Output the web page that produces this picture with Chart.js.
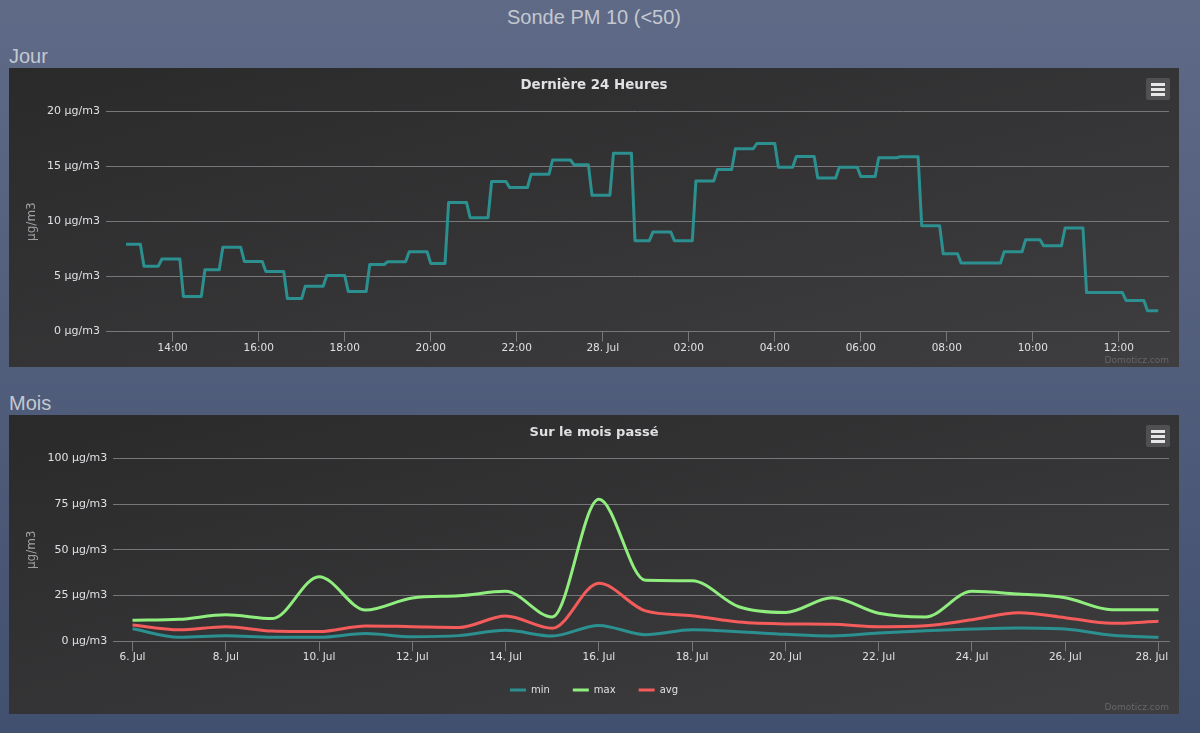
<!DOCTYPE html>
<html>
<head>
<meta charset="utf-8">
<title>Sonde PM 10</title>
<script src="https://cdn.jsdelivr.net/npm/chart.js@4/dist/chart.umd.min.js"></script>
<style>
    html, body { margin: 0; padding: 0; }
    body {
        position: relative;
        width: 1200px;
        height: 733px;
        overflow: hidden;
        background: linear-gradient(to bottom, #5f6a87, #42506f);
        font-family: "Liberation Sans", sans-serif;
        color: #c4c8d0;
    }
    h1, h2 { position: absolute; margin: 0; font-weight: normal; font-size: 20px; line-height: 24px; }
    h1 { left: 0; top: 5px; width: 1188px; text-align: center; }
    h2 { left: 9px; }
    .box {
        position: absolute;
        left: 9px;
        width: 1170px;
        height: 299px;
        background: linear-gradient(to bottom right, #2a2a2b, #3e3e40);
    }
    .box canvas { display: block; }
    .credit {
        position: absolute;
        right: 10px;
        bottom: 2px;
        font: 9px "DejaVu Sans", sans-serif;
        color: #666666;
    }
    .menu {
        position: absolute;
        left: 1137px;
        top: 10px;
        width: 24px;
        height: 22px;
        border-radius: 2px;
        background: #505053;
    }
    .menu i {
        position: absolute;
        left: 5px;
        width: 14px;
        height: 3px;
        background: #e6e6e6;
    }
</style>
</head>
<body>
<h1>Sonde PM 10 (&lt;50)</h1>
<h2 style="top:44px">Jour</h2>
<div class="box" style="top:68px">
    <canvas id="dayChart" width="1170" height="299"></canvas>
    <div class="menu"><i style="top:5px"></i><i style="top:10px"></i><i style="top:15px"></i></div>
    <div class="credit">Domoticz.com</div>
</div>
<h2 style="top:391px">Mois</h2>
<div class="box" style="top:415px">
    <canvas id="monthChart" width="1170" height="299"></canvas>
    <div class="menu"><i style="top:5px"></i><i style="top:10px"></i><i style="top:15px"></i></div>
    <div class="credit">Domoticz.com</div>
</div>
<script>
'use strict';

// Day chart: readings come every 5 minutes from 12:55, each level lasts until the next start slot
var dayFirstMinute = 775;
var daySlotMinutes = 5;
var dayStepSlots = [0, 5, 10, 16, 22, 27, 33, 39, 45, 50, 56, 62, 68, 73, 79, 85, 90, 96, 102, 107,
    113, 119, 125, 130, 136, 142, 147, 153, 159, 165, 170, 176, 182, 187, 193, 199, 205, 210, 216,
    222, 228, 233, 245, 251, 256, 262, 268, 279, 285, 289];
var dayLevels = [7.93, 5.95, 6.6, 3.2, 5.62, 7.66, 6.38, 5.47, 3.0, 4.13, 5.1, 3.65, 6.1, 6.35, 7.26,
    6.2, 11.73, 10.36, 13.65, 13.1, 14.3, 15.6, 15.16, 12.4, 16.22, 8.27, 9.05, 8.27, 13.7, 14.74,
    16.62, 17.1, 14.95, 15.92, 13.97, 14.95, 14.1, 15.8, 15.89, 9.63, 7.08, 6.23, 7.26, 8.36, 7.8,
    9.42, 3.55, 2.83, 1.89];
var dayTickMinutes = [840, 960, 1080, 1200, 1320, 1440, 1560, 1680, 1800, 1920, 2040, 2160];
var dayTickLabels = ['14:00', '16:00', '18:00', '20:00', '22:00', '28. Jul', '02:00', '04:00',
    '06:00', '08:00', '10:00', '12:00'];

// Month chart
var monthDays = [6, 7, 8, 9, 10, 11, 12, 13, 14, 15, 16, 17, 18, 19, 20, 21, 22, 23, 24, 25, 26, 27, 28];
var monthMin = [6.9, 2.2, 3.1, 2.2, 2.2, 4.2, 2.5, 3.1, 6, 2.9, 8.7, 3.6, 6.3, 5.2, 3.8, 2.9, 4.5, 5.8,
    6.7, 7.3, 6.7, 3.3, 2.2];
var monthMax = [11.5, 12, 14.5, 12.4, 35.3, 17.1, 23.7, 24.9, 27.3, 13.3, 77.6, 33.3, 33.1, 18.9, 15.8,
    23.8, 15.3, 13.3, 27.3, 25.8, 23.8, 17.3, 17.3];
var monthAvg = [8.9, 6.3, 8, 5.6, 5.3, 8.4, 8, 7.6, 13.8, 7.1, 31.7, 16.6, 14, 10.5, 9.5, 9.3, 8, 8.5,
    11.8, 15.6, 12.9, 9.8, 10.9];
var monthTickDays = [6, 8, 10, 12, 14, 16, 18, 20, 22, 24, 26, 28];

var unit = 'µg/m3';
var fontFamily = '"DejaVu Sans", sans-serif';
var gridColor = '#77777a';

/**
 * Turn the level table into corner points of the stepped line
 *
 * @returns {Array}
 */
function buildDayPoints() {
    var points = [];

    dayLevels.forEach(function (level, i) {
        points.push({ x: dayFirstMinute + dayStepSlots[i] * daySlotMinutes, y: level });
        points.push({ x: dayFirstMinute + (dayStepSlots[i + 1] - 1) * daySlotMinutes, y: level });
    });

    return points;
}

/**
 * Shared options of both charts
 *
 * @param {Object} cfg title, x range, ticks, y range, axis sizes
 * @returns {Object}
 */
function buildOptions(cfg) {
    return {
        responsive: false,
        animation: false,
        layout: { padding: { left: 10, right: 10, top: 0, bottom: cfg.bottomPadding } },
        elements: { point: { radius: 0 }, line: { borderWidth: 3, borderJoinStyle: 'round' } },
        plugins: {
            tooltip: { enabled: false },
            legend: cfg.legend,
            title: {
                display: true,
                text: cfg.title,
                color: '#E0E0E3',
                font: { family: fontFamily, size: cfg.titleSize, weight: 'bold', lineHeight: 1.2 },
                padding: { top: 9.5, bottom: cfg.titleBottom }
            }
        },
        scales: {
            x: {
                type: 'linear',
                min: cfg.xMin,
                max: cfg.xMax,
                afterBuildTicks: function (scale) {
                    scale.ticks = cfg.tickValues.map(function (v) { return { value: v }; });
                },
                afterFit: function (scale) {
                    scale.height = cfg.xHeight;
                    scale.paddingRight = 0;
                },
                border: { display: true, color: gridColor },
                grid: { drawOnChartArea: false, drawTicks: true, tickLength: 10, tickColor: gridColor },
                ticks: {
                    autoSkip: false,
                    maxRotation: 0,
                    color: '#E0E0E3',
                    font: { family: fontFamily, size: 10.5 },
                    padding: 0,
                    callback: cfg.tickLabel
                }
            },
            y: {
                min: 0,
                max: cfg.yMax,
                afterFit: function (scale) { scale.width = cfg.yWidth; },
                border: { display: false },
                grid: { color: gridColor, drawTicks: false },
                ticks: {
                    stepSize: cfg.yStep,
                    color: '#E0E0E3',
                    font: { family: fontFamily, size: 11 },
                    padding: 6,
                    callback: function (value) { return value + ' ' + unit; }
                },
                title: {
                    display: true,
                    text: unit,
                    color: '#A0A0A3',
                    font: { family: fontFamily, size: 12 },
                    padding: { top: 6, bottom: 0 }
                }
            }
        }
    };
}

new Chart(document.getElementById('dayChart').getContext('2d'), {
    type: 'line',
    data: {
        datasets: [{
            label: unit,
            data: buildDayPoints(),
            borderColor: '#2b908f',
            tension: 0
        }]
    },
    options: buildOptions({
        title: 'Dernière 24 Heures',
        titleSize: 13.4,
        titleBottom: 18.02,
        bottomPadding: 0,
        legend: { display: false },
        xMin: 747,
        xMax: 2230,
        xHeight: 35.4,
        yWidth: 87,
        tickValues: dayTickMinutes,
        tickLabel: function (value) { return dayTickLabels[dayTickMinutes.indexOf(value)]; },
        yMax: 20,
        yStep: 5
    })
});

/**
 * Make one month series from a list of values
 *
 * @param {string} label
 * @param {Array} values
 * @param {string} color
 * @param {number} order
 * @returns {Object}
 */
function monthSeries(label, values, color, order) {
    return {
        label: label,
        data: values.map(function (v, i) { return { x: monthDays[i], y: v }; }),
        borderColor: color,
        backgroundColor: color,
        cubicInterpolationMode: 'monotone',
        pointStyle: 'line',
        pointBorderWidth: 3,
        order: order
    };
}

new Chart(document.getElementById('monthChart').getContext('2d'), {
    type: 'line',
    data: {
        datasets: [
            monthSeries('min', monthMin, '#2b908f', 3),
            monthSeries('max', monthMax, '#90ee7e', 2),
            monthSeries('avg', monthAvg, '#f45b5b', 1)
        ]
    },
    options: buildOptions({
        title: 'Sur le mois passé',
        titleSize: 13,
        titleBottom: 18.2,
        bottomPadding: 9,
        legend: {
            position: 'bottom',
            labels: {
                usePointStyle: true,
                pointStyle: 'line',
                pointStyleWidth: 16,
                padding: 23,
                color: '#E0E0E3',
                font: { family: fontFamily, size: 10 },
                sort: function (a, b) { return a.datasetIndex - b.datasetIndex; }
            }
        },
        xMin: 5.588,
        xMax: 28.225,
        xHeight: 20.7,
        yWidth: 94.3,
        tickValues: monthTickDays,
        // trailing spaces keep the last label inside the plot edge, as in the original
        tickLabel: function (value) { return value === 28 ? '28. Jul    ' : value + '. Jul'; },
        yMax: 100,
        yStep: 25
    })
});
</script>
</body>
</html>
